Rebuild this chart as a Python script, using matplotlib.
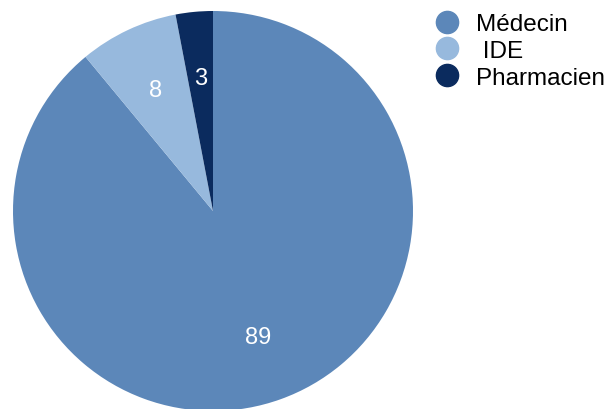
import matplotlib.pyplot as plt
from matplotlib.lines import Line2D

labels = ["Médecin", " IDE", "Pharmacien"]
values = [89, 8, 3]
colors = ["#5c87b9", "#97b9dd", "#0b2b5e"]

plt.rcParams["font.family"] = ["Liberation Sans", "DejaVu Sans"]

fig = plt.figure(figsize=(6.08, 4.10), dpi=100)
ax = fig.add_axes([13 / 608, -2 / 410, 400 / 608, 400 / 410])

wedges, texts = ax.pie(values, colors=colors, startangle=90, counterclock=False,
                       labels=[str(v) for v in values], labeldistance=0.67,
                       textprops=dict(color="white", fontsize=17),
                       wedgeprops=dict(linewidth=0))
for t in texts:
    t.set_ha("center")
    t.set_va("center")
ax.set_xlim(-1, 1)
ax.set_ylim(-1, 1)
ax.set_aspect("equal")
ax.axis("off")

handles = [Line2D([], [], marker="o", ls="", markersize=16, color=c) for c in colors]
fig.legend(handles, labels, loc="upper left", bbox_to_anchor=(435 / 608, 1 - 14 / 410),
           frameon=False, fontsize=17.5, handletextpad=0.7, labelspacing=0.2,
           handlelength=1.0, borderaxespad=0, borderpad=0)

fig.savefig("out.png", dpi=100)
